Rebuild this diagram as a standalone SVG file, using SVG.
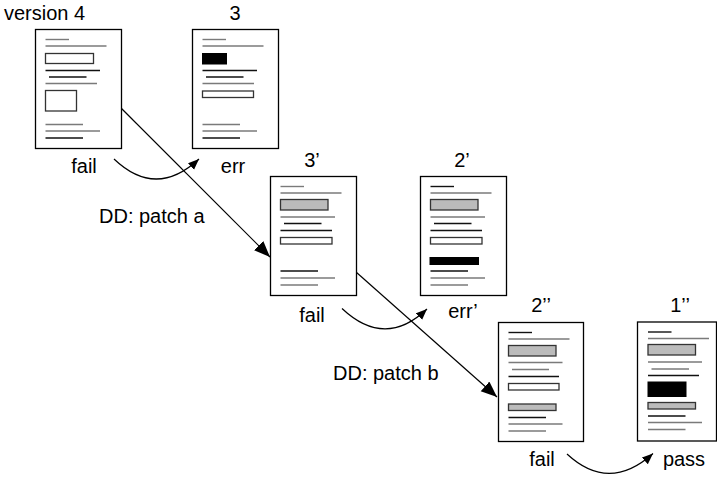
<svg xmlns="http://www.w3.org/2000/svg" width="717" height="478" viewBox="0 0 717 478">
<style>
text{font-family:"Liberation Sans",Arial,sans-serif;font-size:20px;fill:#000}
.m{text-anchor:middle}
.doc{fill:#fff;stroke:#000;stroke-width:1.3}
.g{stroke:#7a7a7a;stroke-width:1.4}
.k{stroke:#111;stroke-width:1.4}
.bw{fill:#fff;stroke:#333;stroke-width:1.3}
.bg{fill:#bbb;stroke:#333;stroke-width:1.3}
.bk{fill:#000;stroke:#000;stroke-width:1}
.conn{fill:none;stroke:#000;stroke-width:1.2}
</style>
<defs>
<marker id="big" markerUnits="userSpaceOnUse" markerWidth="17" markerHeight="14" refX="16" refY="6.5" orient="auto"><path d="M0,0 L16,6.5 L0,13 z" fill="#000"/></marker>
<marker id="sm" markerUnits="userSpaceOnUse" markerWidth="12" markerHeight="10" refX="11" refY="4.5" orient="auto"><path d="M0,0 L11,4.5 L0,9 z" fill="#000"/></marker>
</defs>

<g id="connectors">
<path class="conn" d="M121,108 L270,257" marker-end="url(#big)"/>
<path class="conn" d="M356,272 L497,397" marker-end="url(#big)"/>
<path class="conn" d="M114,159 Q156,199 199,159" marker-end="url(#sm)"/>
<path class="conn" d="M342,308.5 Q385,349 427,309" marker-end="url(#sm)"/>
<path class="conn" d="M567,454 Q609,493 653,453.5" marker-end="url(#sm)"/>
</g>

<g id="doc-v4" transform="translate(35,29)">
<rect class="doc" x="0.5" y="0.5" width="86" height="119"/>
<line class="g" x1="10.5" y1="10.5" x2="34" y2="10.5"/>
<line class="g" x1="10.5" y1="17" x2="71.5" y2="17"/>
<rect class="bw" x="10.5" y="24.5" width="48" height="10"/>
<line class="k" x1="10.5" y1="41.5" x2="65" y2="41.5"/>
<line class="k" x1="14" y1="48" x2="51.5" y2="48"/>
<line class="g" x1="10.5" y1="54.5" x2="62" y2="54.5"/>
<rect class="bw" x="10.5" y="61.5" width="31" height="20.5"/>
<line class="g" x1="10.5" y1="95.5" x2="48" y2="95.5"/>
<line class="g" x1="10.5" y1="102" x2="65" y2="102"/>
<line class="k" x1="10.5" y1="109" x2="48" y2="109"/>
</g>

<g id="doc-3" transform="translate(192,29)">
<rect class="doc" x="0.5" y="0.5" width="86" height="119"/>
<line class="g" x1="10.5" y1="10.5" x2="34" y2="10.5"/>
<line class="g" x1="10.5" y1="17" x2="71.5" y2="17"/>
<rect class="bk" x="10.5" y="24.5" width="24" height="10.5"/>
<line class="k" x1="10.5" y1="41.5" x2="65" y2="41.5"/>
<line class="k" x1="14" y1="48" x2="51.5" y2="48"/>
<line class="g" x1="10.5" y1="54.5" x2="62" y2="54.5"/>
<rect class="bw" x="10.5" y="62" width="51" height="6.5"/>
<line class="g" x1="10.5" y1="95.5" x2="48" y2="95.5"/>
<line class="g" x1="10.5" y1="102" x2="65" y2="102"/>
<line class="k" x1="10.5" y1="109" x2="48" y2="109"/>
</g>

<g id="doc-3p" transform="translate(270,176)">
<rect class="doc" x="0.5" y="0.5" width="86" height="119"/>
<line class="g" x1="10.5" y1="10.5" x2="34" y2="10.5"/>
<line class="g" x1="10.5" y1="17" x2="71.5" y2="17"/>
<rect class="bg" x="10.5" y="23.5" width="47.5" height="10.5"/>
<line class="g" x1="10.5" y1="41" x2="65" y2="41"/>
<line class="k" x1="14" y1="47.5" x2="51.5" y2="47.5"/>
<line class="k" x1="10.5" y1="54.5" x2="62" y2="54.5"/>
<rect class="bw" x="10.5" y="61.5" width="51.5" height="6.5"/>
<line class="k" x1="10.5" y1="95" x2="48" y2="95"/>
<line class="g" x1="10.5" y1="102" x2="65" y2="102"/>
<line class="g" x1="10.5" y1="109" x2="48" y2="109"/>
</g>

<g id="doc-2p" transform="translate(420,176)">
<rect class="doc" x="0.5" y="0.5" width="86" height="119"/>
<line class="k" x1="10.5" y1="10.5" x2="34" y2="10.5"/>
<line class="g" x1="10.5" y1="17" x2="71.5" y2="17"/>
<rect class="bg" x="10.5" y="23.5" width="47.5" height="10.5"/>
<line class="g" x1="10.5" y1="41" x2="65" y2="41"/>
<line class="k" x1="14" y1="47.5" x2="51.5" y2="47.5"/>
<line class="k" x1="10.5" y1="54.5" x2="62" y2="54.5"/>
<rect class="bw" x="10.5" y="61.5" width="51.5" height="6.5"/>
<rect class="bk" x="10" y="81.5" width="48.5" height="7"/>
<line class="k" x1="10.5" y1="95" x2="48" y2="95"/>
<line class="g" x1="10.5" y1="102" x2="65" y2="102"/>
<line class="g" x1="10.5" y1="109" x2="48" y2="109"/>
</g>

<g id="doc-2pp" transform="translate(498,322)">
<rect class="doc" x="0.5" y="0.5" width="85" height="119"/>
<line class="k" x1="10.5" y1="10.5" x2="34" y2="10.5"/>
<line class="g" x1="10.5" y1="17" x2="71.5" y2="17"/>
<rect class="bg" x="10.5" y="23.5" width="47.5" height="10.5"/>
<line class="g" x1="10.5" y1="40.5" x2="64.5" y2="40.5"/>
<line class="g" x1="14" y1="47.5" x2="51" y2="47.5"/>
<line class="k" x1="10.5" y1="54.5" x2="61" y2="54.5"/>
<rect class="bw" x="10.5" y="61.5" width="50.5" height="6.5"/>
<rect class="bg" x="10.5" y="82" width="47.5" height="6.5"/>
<line class="k" x1="10.5" y1="95.5" x2="48" y2="95.5"/>
<line class="g" x1="10.5" y1="102" x2="64.5" y2="102"/>
<line class="g" x1="10.5" y1="109" x2="48" y2="109"/>
</g>

<g id="doc-1pp" transform="translate(637,322)">
<rect class="doc" x="0.5" y="0" width="79" height="119"/>
<line class="k" x1="11" y1="10" x2="34.5" y2="10"/>
<line class="g" x1="11" y1="16.5" x2="72" y2="16.5"/>
<rect class="bg" x="11" y="22.5" width="47.5" height="10.5"/>
<line class="g" x1="11" y1="40" x2="65" y2="40"/>
<line class="g" x1="14.5" y1="47" x2="52" y2="47"/>
<line class="k" x1="11" y1="53.5" x2="62" y2="53.5"/>
<rect class="bk" x="11" y="60" width="38" height="14.5"/>
<rect class="bg" x="11" y="80.5" width="47.5" height="6.5"/>
<line class="k" x1="11" y1="94" x2="48.5" y2="94"/>
<line class="g" x1="11" y1="100.5" x2="65" y2="100.5"/>
<line class="g" x1="11" y1="107.5" x2="48.5" y2="107.5"/>
</g>

<g id="labels">
<text x="4" y="20">version 4</text>
<text class="m" x="235" y="20">3</text>
<text class="m" x="84" y="173">fail</text>
<text class="m" x="233" y="173">err</text>
<text class="m" x="312" y="166.5">3’</text>
<text class="m" x="462" y="166.5">2’</text>
<text class="m" x="312" y="321.5">fail</text>
<text class="m" x="463" y="318">err’</text>
<text x="99" y="223">DD: patch a</text>
<text x="333" y="380">DD: patch b</text>
<text class="m" x="541" y="312">2’’</text>
<text class="m" x="680" y="312">1’’</text>
<text class="m" x="542" y="466">fail</text>
<text class="m" x="684" y="466">pass</text>
</g>
</svg>
